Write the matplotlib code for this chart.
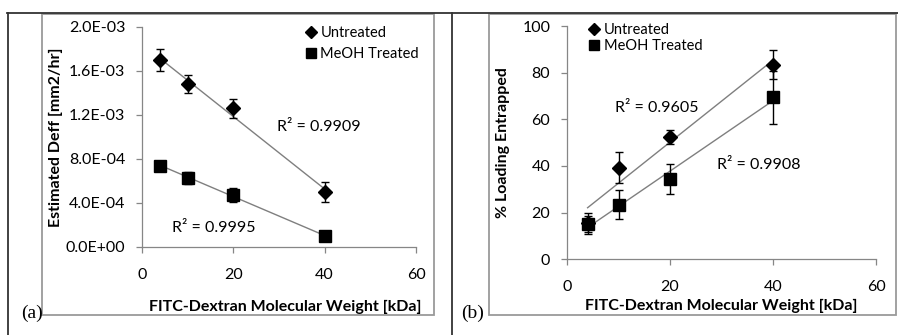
import matplotlib
matplotlib.use("Agg")
import matplotlib.pyplot as plt
import numpy as np
from matplotlib.lines import Line2D
from matplotlib.patches import Rectangle

# ---------------- data ----------------
mw = [4, 10, 20, 40]

# panel (a): estimated Deff [mm2/hr]
deff_untreated = [1.70e-3, 1.48e-3, 1.26e-3, 0.50e-3]
deff_untreated_err = [0.10e-3, 0.08e-3, 0.09e-3, 0.09e-3]
deff_meoh = [0.74e-3, 0.63e-3, 0.47e-3, 0.10e-3]
deff_meoh_err = [0.02e-3, 0.055e-3, 0.065e-3, 0.03e-3]
r2_a = ["R\u00b2 = 0.9909", "R\u00b2 = 0.9995"]

# panel (b): % loading entrapped
load_untreated = [15.4, 39.3, 52.3, 83.3]
load_untreated_err = [4.5, 6.8, 3.0, 6.2]
load_meoh = [15.0, 23.3, 34.4, 69.4]
load_meoh_err = [3.5, 6.2, 6.4, 11.4]
r2_b = ["R\u00b2 = 0.9605", "R\u00b2 = 0.9908"]

yticks_a = [0, 4e-4, 8e-4, 1.2e-3, 1.6e-3, 2.0e-3]
yticklabels_a = ["0.0E+00", "4.0E-04", "8.0E-04", "1.2E-03", "1.6E-03", "2.0E-03"]
yticks_b = [0, 20, 40, 60, 80, 100]
xticks = [0, 20, 40, 60]
series_names = ["Untreated", "MeOH Treated"]

# ---------------- style ----------------
W, H = 898, 335
FONT = "Lato"
plt.rcParams["font.family"] = [FONT, "DejaVu Sans"]
GRAY = "#868686"
TREND = "#7f7f7f"
FS = 11.5

fig = plt.figure(figsize=(W / 100, H / 100), dpi=100)


def fx(x):
    return x / W


def fy(y):
    return 1 - y / H


def add_axes(l, t, r, b):
    return fig.add_axes([fx(l), fy(b), fx(r) - fx(l), fy(t) - fy(b)])


# table / frame lines
for (x0, y0, x1, y1, c, lw) in [
    (7, 12.5, 898, 12.5, "#333333", 1.3),
    (7.5, 12.5, 7.5, 335, "#333333", 1.3),
    (452, 12.5, 452, 335, "#333333", 1.3),
]:
    fig.add_artist(Line2D([fx(x0), fx(x1)], [fy(y0), fy(y1)], color=c, lw=lw,
                          transform=fig.transFigure))
# inner chart borders
for (l, t, r, b) in [(42, 14, 434, 315), (489, 14, 896, 315)]:
    fig.add_artist(Rectangle((fx(l), fy(b)), fx(r) - fx(l), fy(t) - fy(b),
                             transform=fig.transFigure, fill=False,
                             edgecolor="#9a9a9a", lw=1.3))


def style_axes(ax):
    for s in ["top", "right"]:
        ax.spines[s].set_visible(False)
    for s in ["left", "bottom"]:
        ax.spines[s].set_color(GRAY)
        ax.spines[s].set_linewidth(0.9)
    ax.tick_params(axis="both", direction="out", length=4, width=0.9,
                   color=GRAY, labelsize=FS, labelcolor="black")
    ax.tick_params(axis="x", pad=11)
    ax.tick_params(axis="y", pad=8)
    ax.set_facecolor("none")


def plot_series(ax, y, err, marker, ms):
    ax.errorbar(mw, y, yerr=err, fmt=marker, color="black", ms=ms,
                ecolor="black", elinewidth=1.0, capsize=3, capthick=1.0,
                zorder=3)
    c = np.polyfit(mw, y, 1)
    xs = np.array([mw[0], mw[-1]])
    ax.plot(xs, np.polyval(c, xs), color=TREND, lw=1.0, zorder=2)


def legend_handles():
    return [Line2D([], [], ls="none", marker="D", ms=6.5, color="black"),
            Line2D([], [], ls="none", marker="s", ms=7.5, color="black")]


# ---------------- panel (a) ----------------
ax1 = add_axes(142, 27, 416, 247)
style_axes(ax1)
plot_series(ax1, deff_untreated, deff_untreated_err, "D", 7)
plot_series(ax1, deff_meoh, deff_meoh_err, "s", 8)
ax1.set_xlim(0, 60)
ax1.set_ylim(0, 2.0e-3)
ax1.set_xticks(xticks)
ax1.set_yticks(yticks_a)
ax1.set_yticklabels(yticklabels_a)
ax1.set_xlabel("FITC-Dextran Molecular Weight [kDa]", fontsize=FS,
               fontweight="bold", va="center")
ax1.xaxis.set_label_coords((285 - 142) / 274, (247 - 307) / 220)
ax1.set_ylabel("Estimated Deff [mm2/hr]", fontsize=FS, fontweight="bold",
               va="center")
ax1.yaxis.set_label_coords((56 - 142) / 274, 0.5)
ax1.text(29.6, 1.09e-3, r2_a[0], fontsize=FS, ha="left", va="center")
ax1.text(6.6, 0.17e-3, r2_a[1], fontsize=FS, ha="left", va="center")
ax1.legend(legend_handles(), series_names, loc="upper left",
           bbox_to_anchor=(fx(305), fy(26)),
           bbox_transform=fig.transFigure, frameon=False, fontsize=10.5,
           borderpad=0, handlelength=0.8, handletextpad=0.25,
           labelspacing=0.5, borderaxespad=0)

# ---------------- panel (b) ----------------
ax2 = add_axes(567, 26, 876, 259.3)
style_axes(ax2)
plot_series(ax2, load_untreated, load_untreated_err, "D", 7)
plot_series(ax2, load_meoh, load_meoh_err, "s", 8)
ax2.set_xlim(0, 60)
ax2.set_ylim(0, 100)
ax2.set_xticks(xticks)
ax2.set_yticks(yticks_b)
ax2.set_xlabel("FITC-Dextran Molecular Weight [kDa]", fontsize=FS,
               fontweight="bold", va="center")
ax2.xaxis.set_label_coords((721 - 567) / 309, (259.3 - 306) / 233.3)
ax2.set_ylabel("% Loading Entrapped", fontsize=FS, fontweight="bold",
               va="center")
ax2.yaxis.set_label_coords((503 - 567) / 309, 0.5)
ax2.text(9.3, 64.7, r2_b[0], fontsize=FS, ha="left", va="center")
ax2.text(29.1, 40.4, r2_b[1], fontsize=FS, ha="left", va="center")
ax2.legend(legend_handles(), series_names, loc="upper left",
           bbox_to_anchor=(fx(588), fy(23.5)),
           bbox_transform=fig.transFigure, frameon=False, fontsize=10.5,
           borderpad=0, handlelength=0.8, handletextpad=0.3,
           labelspacing=0.12, borderaxespad=0)

# panel letters
fig.text(fx(21), fy(313), "(a)", family="Liberation Serif", fontsize=14,
         ha="left", va="center")
fig.text(fx(461), fy(313), "(b)", family="Liberation Serif", fontsize=14,
         ha="left", va="center")

fig.savefig("out.png", dpi=100, facecolor="white")
